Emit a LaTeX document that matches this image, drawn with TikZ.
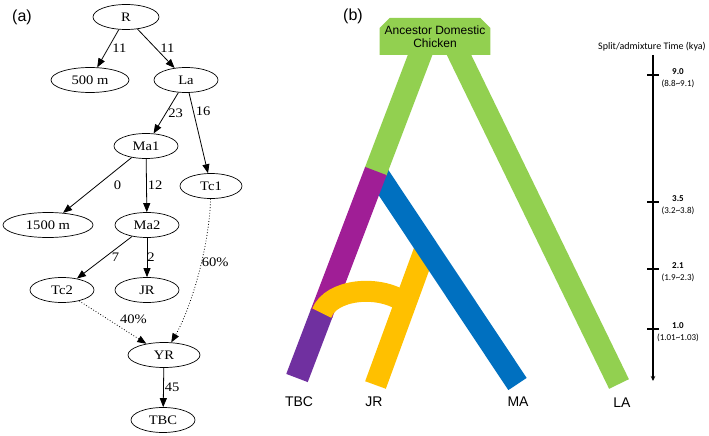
\documentclass[tikz,border=0pt]{standalone}
\usepackage{fontspec}
\setmainfont{Liberation Serif}
\newfontfamily\gvfont[FakeStretch=1.12]{Liberation Serif}
\newfontfamily\sansfont{Liberation Sans}
\newfontfamily\calfont{Carlito}
\usetikzlibrary{shapes,arrows.meta,positioning,calc}

\definecolor{grn}{HTML}{92D050}
\definecolor{pur}{HTML}{A01E96}
\definecolor{dpur}{HTML}{7030A0}
\definecolor{blu}{HTML}{0070C0}
\definecolor{ylw}{HTML}{FFC000}

\begin{document}
\begin{tikzpicture}[
    x=1pt, y=-1pt,
    pop/.style={
        ellipse,
        draw,
        line width=0.7pt,
        inner sep=0pt,
        minimum width=64pt,
        minimum height=25pt,
        font=\gvfont\fontsize{13}{15}\selectfont
    },
    line/.style={
        draw,
        -{Triangle[length=9pt,width=7pt]},
        line width=0.8pt
    },
    mix/.style={
        line,
        dotted
    },
    wt/.style={
        anchor=west,
        inner sep=1pt,
        font=\gvfont\fontsize{13}{15}\selectfont
    },
    branch/.style={
        line width=23pt,
        line cap=butt
    },
    leaf/.style={
        font=\sansfont\fontsize{14}{16}\selectfont
    },
    tlab/.style={
        align=center,
        inner sep=0pt,
        font=\calfont\fontsize{9}{12.5}\selectfont
    }
]
\useasboundingbox (0,0) rectangle (709,436);

% Panel (a): admixture graph
\node [font=\sansfont\fontsize{16}{18}\selectfont] (pa) at (22,17) {(a)};

\node [pop, minimum width=66pt] (R) at (126,17) {R};
\node [pop, minimum width=78pt] (m500) at (90,80) {500 m};
\node [pop] (La) at (186,80) {La};
\node [pop] (Ma1) at (146,146) {Ma1};
\node [pop, minimum width=62pt] (Tc1) at (211,186) {Tc1};
\node [pop, minimum width=90pt] (m1500) at (48,225) {1500 m};
\node [pop] (Ma2) at (147,225) {Ma2};
\node [pop] (Tc2) at (62,290) {Tc2};
\node [pop] (JR) at (147,290) {JR};
\node [pop, minimum width=72pt] (YR) at (164,355) {YR};
\node [pop] (TBC) at (163,420) {TBC};

\path [line] (R) -- node [wt, xshift=3pt] {11} (m500);
\path [line] (R) -- node [wt, xshift=3pt] {11} (La);
\path [line] (La) -- node [wt, xshift=1pt] {23} (Ma1);
\path [line] (La) -- node [wt, pos=0.23, xshift=1pt] {16} (Tc1);
\path [line] (Ma1) -- node [wt, xshift=15pt] {0} (m1500);
\path [line] (Ma1) -- node [wt] {12} (Ma2);
\path [line] (Ma2) -- node [wt, xshift=6pt] {7} (Tc2);
\path [line] (Ma2) -- node [wt, xshift=-1pt] {2} (JR);
\path [line] (YR) -- node [wt] {45} (TBC);
\path [mix] (Tc1) .. controls (209,250) and (190,310) .. node [wt, pos=0.4, xshift=-1pt] {60\%} (YR);
\path [mix] (Tc2) -- node [wt, xshift=6pt, yshift=3pt] {40\%} (YR);

% Panel (b): population tree
\node [font=\sansfont\fontsize{16}{18}\selectfont] (pb) at (353,16) {(b)};

\coordinate (lt) at (422,50);
\coordinate (lb) at (297,378);
\coordinate (rt) at (456.6,50);
\coordinate (rb) at (619,384);
\coordinate (mt) at (376.2,171.6);
\coordinate (mb) at (517.5,384);
\coordinate (jt) at (426,247);
\coordinate (jb) at (375.5,385);

\draw [branch, ylw, line width=22pt] (jb) -- (jt);
\draw [branch, blu, line width=22pt] (mt) -- (mb);
\draw [branch, grn] (lt) -- ($(lt)!0.372!(lb)$);
\draw [branch, grn, line width=22pt] (rt) -- (rb);
\draw [branch, pur] ($(lt)!0.369!(lb)$) -- ($(lt)!0.805!(lb)$);
\draw [branch, dpur] ($(lt)!0.802!(lb)$) -- (lb);
\draw [branch, ylw, line width=21pt] ($(lt)!0.802!(lb)$) .. controls ($(lt)!0.73!(lb)$) and (378,284) .. (404,302);

\node [chamfered rectangle,
       chamfered rectangle corners={north west,north east},
       chamfered rectangle xsep=5pt, chamfered rectangle ysep=5pt,
       fill=grn, inner sep=0pt, minimum width=106pt, minimum height=37pt,
       align=center, font=\sansfont\fontsize{12}{13}\selectfont] (anc) at (435,36.5) {Ancestor Domestic\\Chicken};

\node [leaf] (tbc) at (299,402) {TBC};
\node [leaf] (jr) at (374,402) {JR};
\node [leaf] (ma) at (518,402) {MA};
\node [leaf] (la) at (622,403) {LA};

% Time axis
\coordinate (ax0) at (653,55);
\coordinate (ax1) at (653,381);
\draw [line width=1.2pt, -{Stealth[length=5pt,width=4.5pt]}] (ax0) -- (ax1);
\node [font=\calfont\fontsize{10}{12}\selectfont] (axt) at (652,47) {Split/admixture Time (kya)};
\foreach \y/\v/\lo/\hi [count=\i] in {75/9.0/8.8/9.1, 202/3.5/3.2/3.8, 269/2.1/1.9/2.3, 329/1.0/1.01/1.03} {
    \draw [line width=1.2pt] (647,\y) -- (659,\y);
    \node [tlab] (tl\i) at (678,\y+3) {\textbf{\v}\\(\lo\textasciitilde\hi)};
}

\end{tikzpicture}
\end{document}
